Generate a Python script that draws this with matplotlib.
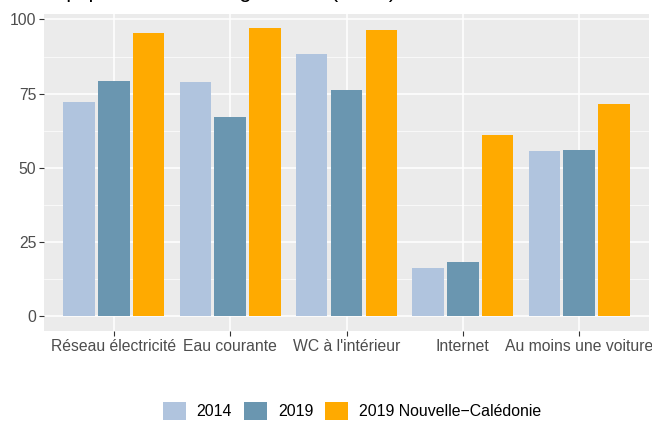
import numpy as np
import matplotlib.pyplot as plt
from matplotlib.patches import Patch

categories = ["Réseau électricité", "Eau courante", "WC à l'intérieur", "Internet", "Au moins une voiture"]
series = ["2014", "2019", "2019 Nouvelle\u2212Calédonie"]
v2014 = [72.1, 78.9, 88.3, 16.4, 55.7]
v2019 = [79.2, 67.1, 76.2, 18.1, 56.0]
vnc = [95.3, 97.0, 96.3, 61.1, 71.5]
colors = ["#B0C4DE", "#6A96B0", "#FFAA00"]

plt.rcParams['font.family'] = ['Liberation Sans', 'DejaVu Sans']

fig = plt.figure(figsize=(6.52, 4.22), dpi=100)
ax = fig.add_axes([0.0675, 0.2156, 0.9279, 0.7512])
ax.set_facecolor("#EBEBEB")

x = np.arange(1, len(categories) + 1)
slot = 0.3
for i, (vals, c) in enumerate(zip([v2014, v2019, vnc], colors)):
    ax.bar(x + (i - 1) * slot, vals, width=slot * 0.9, color=c, zorder=3)

ax.set_xlim(0.4, 5.6)
ax.set_ylim(-5, 101.85)
ax.set_xticks(x)
ax.set_xticklabels(categories)
ax.set_yticks([0, 25, 50, 75, 100])
ax.set_yticks([12.5, 37.5, 62.5, 87.5], minor=True)
ax.grid(True, which="major", color="white", linewidth=1.1, zorder=0)
ax.grid(True, which="minor", axis="y", color="white", linewidth=0.5, zorder=0)
ax.set_axisbelow(True)
for s in ax.spines.values():
    s.set_visible(False)
ax.tick_params(axis="both", which="major", colors="#333333", length=3.5, width=0.8,
               labelcolor="#4D4D4D", labelsize=11.3, pad=2)
ax.tick_params(axis="y", which="minor", length=0)

# titre coupé en haut de l'image, seuls les jambages restent visibles
fig.text(44 / 652, 1 + 3 / 422, "Équipements des logements (en %)", fontsize=16, va="baseline")

handles = [Patch(facecolor=c, edgecolor="none") for c in colors]
fig.legend(handles, series, loc="center", bbox_to_anchor=(352 / 652, 11 / 422), ncol=3,
           frameon=False, fontsize=11.4, handlelength=1.45, handleheight=1.45,
           columnspacing=0.75, handletextpad=0.7, borderpad=0, borderaxespad=0)

fig.savefig("out.png", dpi=100)
